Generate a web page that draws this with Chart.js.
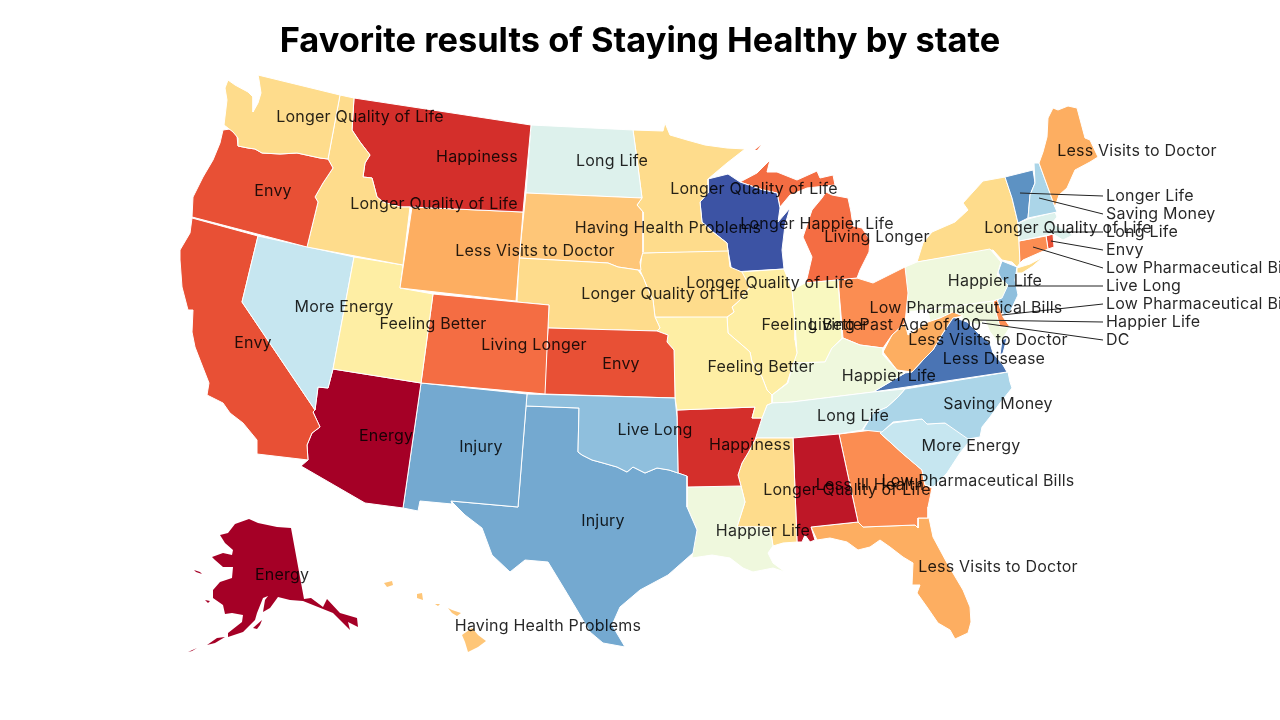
<!DOCTYPE html>
<html>
<head>
<meta charset="utf-8">
<title>Favorite results of Staying Healthy by state</title>
<script src="https://cdn.jsdelivr.net/npm/chart.js@4"></script>
<style>
html,body{margin:0;padding:0;background:#fff;}
canvas{display:block;}
</style>
</head>
<body>
<canvas id="map" width="1280" height="720"></canvas>
<script>
// STATE OUTLINES (map units)
const WA = [[258,75],[340,95],[328,159],[320,158],[297,153],[280,154],[262,153],[255,149],[248,148],[238,146],[238,138],[233,132],[224,125],[227,100],[225,88],[228,80],[235,85],[248,92],[253,97],[253,112],[258,103],[261,93],[259,80]];
const OR = [[223,130],[230,129],[237,136],[238,146],[248,148],[255,149],[262,153],[280,154],[297,153],[320,158],[328,159],[333,168],[323,183],[315,197],[318,202],[307,247],[192,217],[193,197],[203,177],[213,160],[220,143]];
const ID = [[340,95],[354,98],[352,130],[360,142],[370,155],[365,163],[363,177],[372,178],[377,197],[383,202],[400,207],[410,207],[403,265],[307,247],[318,202],[315,197],[323,183],[333,168],[328,159]];
const MT = [[354,98],[531,125],[523,212],[410,207],[400,207],[383,202],[377,197],[372,178],[363,177],[365,163],[370,155],[360,142],[352,130]];
const WY = [[412,207],[523,212],[516,301],[400,288]];
const UT = [[354,257],[403,265],[400,288],[433,294],[421,383],[333,369]];
const NV = [[258,236],[354,257],[333,369],[328,388],[318,387],[315,410],[242,302]];
const CA = [[192,218],[258,236],[242,302],[315,410],[313,412],[320,427],[312,433],[307,445],[308,460],[257,454],[257,440],[243,423],[230,413],[223,403],[207,395],[209,383],[200,360],[195,347],[192,332],[193,310],[188,310],[182,287],[180,260],[180,250],[190,233]];
const AZ = [[333,369],[421,383],[403,508],[365,503],[301,466],[308,460],[307,445],[312,433],[320,427],[313,412],[315,410],[318,387],[328,388]];
const CO = [[433,294],[517,302],[549,305],[545,394],[421,383]];
const NM = [[421,383],[527,394],[518,507],[451,501],[452,504],[420,501],[418,511],[403,508]];
const OK = [[527,394],[675,398],[677,417],[678,473],[669,470],[657,468],[645,473],[633,467],[627,472],[617,467],[603,463],[592,460],[582,455],[578,452],[579,408],[526,406]];
const TX = [[526,406],[579,408],[578,452],[582,455],[592,460],[603,463],[617,467],[627,472],[633,467],[645,473],[657,468],[669,470],[678,473],[687,476],[687,507],[697,530],[693,553],[668,575],[640,590],[620,607],[612,625],[625,647],[603,643],[590,632],[577,610],[565,590],[548,562],[525,560],[510,572],[492,555],[482,528],[465,515],[451,501],[518,507]];
const KS = [[548,328],[657,331],[668,335],[667,342],[674,350],[675,398],[544,394]];
const NE = [[519,258],[608,263],[618,267],[638,270],[643,277],[647,287],[653,300],[655,317],[660,328],[657,331],[548,328],[549,305],[517,302]];
const SD = [[526,193],[642,198],[637,205],[643,212],[643,252],[640,262],[641,270],[638,270],[618,267],[608,263],[519,258]];
const ND = [[531,125],[633,130],[638,167],[642,198],[526,193]];
const MN = [[633,130],[663,131],[665,123],[670,135],[687,140],[705,145],[727,148],[745,149],[727,163],[708,179],[708,193],[700,202],[702,222],[713,232],[727,243],[728,251],[642,253],[643,212],[637,205],[642,198],[638,167]];
const IA = [[642,253],[728,250],[730,267],[742,272],[750,287],[740,300],[732,307],[734,312],[727,317],[655,317],[653,300],[647,287],[640,270]];
const MO = [[655,317],[727,316],[728,333],[742,345],[750,352],[752,362],[762,377],[767,390],[772,395],[772,403],[767,405],[762,418],[752,418],[755,407],[677,410],[675,398],[674,350],[667,342],[668,335],[657,331],[660,328]];
const AR = [[677,410],[755,407],[752,418],[762,418],[755,440],[748,453],[742,463],[738,475],[741,486],[687,487],[686,476],[678,473]];
const LA = [[687,487],[741,486],[745,502],[737,527],[770,527],[773,546],[768,553],[773,563],[785,572],[773,568],[763,570],[753,572],[743,568],[730,558],[712,555],[692,558],[693,547],[697,530],[687,507]];
const MS = [[757,438],[793,438],[797,542],[783,543],[773,546],[770,527],[737,527],[745,502],[741,486],[738,475],[742,463],[748,453],[755,440]];
const AL = [[793,438],[839,434],[858,522],[811,527],[815,540],[810,542],[805,535],[802,542],[797,542]];
const TN = [[767,405],[772,403],[792,402],[873,392],[905,389],[898,397],[887,407],[873,413],[862,430],[839,434],[793,438],[757,438],[755,440],[762,418]];
const KY = [[772,403],[772,395],[788,383],[793,363],[825,362],[832,348],[843,338],[860,345],[883,348],[883,355],[897,370],[905,373],[873,392],[792,402]];
const IL = [[740,272],[784,269],[792,290],[795,323],[795,340],[797,353],[787,383],[772,395],[767,390],[762,377],[752,362],[750,352],[742,345],[728,333],[727,317],[734,312],[732,307],[740,300],[750,287]];
const IN = [[792,290],[805,283],[838,280],[842,338],[832,348],[825,362],[793,363],[797,353],[795,323]];
const WI = [[708,179],[728,174],[740,182],[763,190],[777,193],[780,208],[778,222],[790,208],[785,225],[782,250],[784,269],[732,272],[728,251],[727,243],[713,232],[702,222],[700,202],[708,193]];
const MI_UPPER = [[740,182],[757,173],[770,160],[767,172],[777,172],[797,180],[817,171],[820,178],[833,175],[835,185],[807,188],[790,195],[780,207],[777,193],[763,190]];
const MI_LOWER = [[806,283],[812,257],[803,237],[812,210],[822,198],[826,192],[832,195],[848,198],[851,212],[853,226],[862,228],[870,240],[869,252],[860,270],[857,278]];
const MI_ISLE = [[755,150],[761,145],[757,150]];
const OH = [[838,280],[857,278],[873,283],[905,267],[908,293],[905,323],[892,335],[883,348],[860,345],[843,338]];
const WV = [[883,352],[892,335],[905,323],[908,335],[928,322],[940,318],[953,312],[963,316],[953,318],[943,333],[933,350],[923,360],[912,372],[897,370]];
const PA = [[905,267],[917,262],[990,249],[1001,262],[997,275],[1008,285],[1002,298],[993,301],[908,312]];
const MD = [[928,310],[993,301],[1000,327],[1010,327],[1003,338],[998,342],[990,332],[985,320],[978,325],[965,320],[955,313],[940,318],[930,322]];
const DE = [[993,302],[997,299],[1003,317],[1010,327],[999,327]];
const DC = [[979,321],[982,320],[983,323],[980,324]];
const VA = [[873,392],[905,373],[912,372],[923,360],[933,350],[943,333],[953,317],[967,322],[980,335],[990,343],[993,353],[1003,365],[1007,372]];
const VA_SHORE = [[1002,340],[1007,338],[1003,353],[1000,355]];
const NC = [[905,389],[1008,372],[1010,382],[1012,388],[1000,403],[990,417],[982,427],[980,437],[968,439],[945,423],[927,424],[922,419],[893,422],[882,432],[863,430],[873,413],[887,407],[898,397]];
const SC = [[880,433],[893,423],[922,419],[927,424],[945,423],[972,438],[960,453],[947,473],[933,487],[925,485],[922,470],[902,453],[890,442]];
const GA = [[839,434],[881,429],[882,435],[890,442],[902,453],[922,470],[925,485],[932,488],[928,507],[928,518],[918,518],[918,528],[915,525],[863,527],[858,522]];
const FL = [[811,527],[858,522],[863,527],[915,525],[918,528],[918,518],[929,518],[933,537],[947,563],[963,590],[970,607],[971,622],[968,633],[955,639],[950,630],[938,623],[927,607],[917,593],[920,585],[912,585],[913,563],[903,557],[890,547],[880,540],[870,547],[858,550],[847,542],[830,538],[817,540]];
const ME = [[1053,108],[1058,110],[1068,106],[1077,108],[1085,138],[1090,140],[1098,157],[1090,162],[1075,170],[1067,188],[1059,195],[1055,207],[1039,163],[1043,152],[1047,137],[1048,118]];
const NH = [[1034,163],[1039,163],[1055,207],[1057,212],[1028,218],[1030,195],[1035,183]];
const VT = [[1005,177],[1033,170],[1035,183],[1030,195],[1028,218],[1018,223],[1012,198]];
const MA = [[1018,223],[1028,219],[1055,212],[1057,217],[1052,223],[1073,235],[1063,240],[1053,234],[1019,241]];
const CT = [[1019,241],[1046,236],[1048,249],[1023,260],[1020,263]];
const RI = [[1046,236],[1053,234],[1054,247],[1048,249]];
const NY = [[1005,177],[1012,198],[1018,223],[1019,241],[1020,263],[1017,267],[1012,262],[1002,260],[993,250],[917,262],[923,243],[932,232],[955,222],[968,210],[963,203],[983,181]];
const NY_LONG = [[1017,268],[1030,264],[1043,257],[1033,266],[1022,273],[1017,273]];
const NJ = [[1002,261],[1017,267],[1015,280],[1018,295],[1010,312],[1004,315],[997,302],[1005,287],[998,272]];
const AK = [[249,519],[258,523],[277,527],[291,528],[304,599],[311,598],[323,607],[327,599],[340,613],[357,618],[358,627],[348,622],[350,630],[333,613],[313,605],[303,601],[290,600],[278,597],[270,608],[263,612],[265,600],[268,596],[263,598],[257,613],[255,620],[243,632],[228,637],[228,633],[242,622],[243,615],[232,613],[225,614],[223,605],[213,598],[213,590],[220,582],[232,578],[233,567],[223,567],[215,560],[212,557],[223,553],[232,555],[233,550],[225,543],[220,535],[228,533],[235,524]];
const AK_KODIAK = [[253,628],[262,620],[260,625],[257,629]];
const AK_ISLE1 = [[194,570],[200,572],[202,574],[196,572]];
const AK_ISLE2 = [[205,600],[210,601],[208,603]];
const AK_ISLE3 = [[207,645],[217,638],[225,637],[215,643]];
const AK_ISLE4 = [[188,652],[197,648],[192,651]];
const HI_BIG = [[472,628],[478,635],[486,641],[478,647],[468,652],[465,642],[462,635]];
const HI_MAUI = [[448,608],[452,610],[461,613],[457,616],[452,613]];
const HI_OAHU = [[417,594],[422,593],[423,600],[417,598]];
const HI_KAUAI = [[384,583],[392,581],[393,585],[387,587]];
const HI_MOLOKAI = [[435,604],[440,604],[438,606]];

// DATA
const shapes = [WA,OR,ID,MT,WY,UT,NV,CA,AZ,CO,NM,OK,TX,KS,NE,SD,ND,MN,IA,MO,AR,LA,MS,AL,TN,KY,IL,IN,WI,MI_UPPER,MI_LOWER,MI_ISLE,OH,WV,PA,MD,DE,DC,VA,VA_SHORE,NC,SC,GA,FL,ME,NH,VT,MA,CT,RI,NY,NY_LONG,NJ,AK,AK_KODIAK,AK_ISLE1,AK_ISLE2,AK_ISLE3,AK_ISLE4,HI_BIG,HI_MAUI,HI_OAHU,HI_KAUAI,HI_MOLOKAI];
const shapeResults = ['Longer Quality of Life','Envy','Longer Quality of Life','Happiness','Less Visits to Doctor','Feeling Better','More Energy','Envy','Energy','Living Longer','Injury','Live Long','Injury','Envy','Longer Quality of Life','Having Health Problems','Long Life','Longer Quality of Life','Longer Quality of Life','Feeling Better','Happiness','Happier Life','Longer Quality of Life','Less Ill Health','Long Life','Happier Life','Feeling Better','Living Past Age of 100','Longer Happier Life','Living Longer','Living Longer','Living Longer','Low Pharmaceutical Bills','Less Visits to Doctor','Happier Life','Happier Life','Low Pharmaceutical Bills','Less Disease','Less Disease','Less Disease','Saving Money','More Energy','Low Pharmaceutical Bills','Less Visits to Doctor','Less Visits to Doctor','Saving Money','Longer Life','Long Life','Low Pharmaceutical Bills','Envy','Longer Quality of Life','Longer Quality of Life','Live Long','Energy','Energy','Energy','Energy','Energy','Energy','Having Health Problems','Having Health Problems','Having Health Problems','Having Health Problems','Having Health Problems'];

// these have no neighbours, a white edge would only eat into them
const noEdgeShapes = [MI_ISLE,AK,AK_KODIAK,AK_ISLE1,AK_ISLE2,AK_ISLE3,AK_ISLE4,HI_BIG,HI_MAUI,HI_OAHU,HI_KAUAI,HI_MOLOKAI];

// result categories, in colour scale order
const resultNames = ['Energy','Less Ill Health','Happiness','Envy','Living Longer','Low Pharmaceutical Bills','Less Visits to Doctor','Having Health Problems','Longer Quality of Life','Feeling Better','Living Past Age of 100','Happier Life','Long Life','More Energy','Saving Money','Live Long','Injury','Longer Life','Less Disease','Longer Happier Life'];
const resultColors = ['#a50026','#be1727','#d42f2b','#e85035','#f46d43','#fb8d52','#fdae61','#fec678','#fedc8c','#feeea4','#f9f8c0','#eff8dd','#ddf1ec','#c6e6f0','#abd5e8','#8fbfdd','#74a9d0','#5d92c3','#4a74b4','#3c53a4'];

// labels drawn on the map
const labelText = ['Longer Quality of Life','Happiness','Long Life','Less Visits to Doctor','Longer Quality of Life','Envy','Longer Quality of Life','Longer Happier Life','Having Health Problems','Living Longer','Longer Quality of Life','Less Visits to Doctor','Longer Quality of Life','Happier Life','Longer Quality of Life','More Energy','Low Pharmaceutical Bills','Feeling Better','Feeling Better','Living Past Age of 100','Less Visits to Doctor','Living Longer','Envy','Less Disease','Envy','Feeling Better','Happier Life','Saving Money','Long Life','Live Long','Energy','Happiness','Injury','More Energy','Low Pharmaceutical Bills','Less Ill Health','Longer Quality of Life','Happier Life','Injury','Less Visits to Doctor','Energy','Having Health Problems'];
const labelX = [360,477,612,1137,754,273,434,817,668,877,1068,535,770,995,665,344,966,433,815,895,988,534,253,994,621,761,889,998,853,655,386,750,481,971,978,870,847,763,603,998,282,548];
const labelY = [117,157,161,151,189,191,204,224,228,237,228,251,283,281,294,307,308,324,325,325,340,345,343,359,364,367,376,404,416,430,436,445,447,446,481,485,490,531,521,567,575,626];

// small states labelled out to the side
const sideText = ['Longer Life','Saving Money','Long Life','Envy','Low Pharmaceutical Bills','Live Long','Low Pharmaceutical Bills','Happier Life','DC'];
const sideY = [196,214,232,250,268,286,304,322,340];
const leaderFromX = [1020,1039,1043,1051,1033,1008,1002,973,982];
const leaderFromY = [193,198,232,241,247,286,315,320,323];
const sideX = 1106;
const leaderToX = 1103;

// CHART
const datasets = [];
sideY.forEach((y,i)=>{
  datasets.push({
    data:[{x:leaderFromX[i],y:leaderFromY[i]},{x:leaderToX,y:y}],
    showLine:true,
    borderColor:'#222',
    borderWidth:1,
    pointRadius:0,
    order:0
  });
});
shapes.forEach((shape,i)=>{
  const pts = shape.map(p=>({x:p[0],y:p[1]}));
  pts.push(pts[0]);
  datasets.push({
    data:pts,
    showLine:true,
    fill:'shape',
    tension:0,
    backgroundColor:resultColors[resultNames.indexOf(shapeResults[i])],
    borderColor:'#fff',
    borderWidth:noEdgeShapes.includes(shape)?0:1,
    pointRadius:0,
    order:1
  });
});

// draws the state names through the same scales as the shapes
const mapLabels = {
  id:'mapLabels',
  afterDatasetsDraw(chart){
    const c = chart.ctx;
    const xs = chart.scales.x;
    const ys = chart.scales.y;
    c.save();
    c.font = '16px "Inter"';
    c.letterSpacing = '0.2px';
    c.fillStyle = 'rgba(0,0,0,0.85)';
    c.textBaseline = 'middle';
    c.textAlign = 'center';
    labelText.forEach((t,i)=>{
      c.fillText(t,xs.getPixelForValue(labelX[i]),ys.getPixelForValue(labelY[i]));
    });
    c.textAlign = 'left';
    sideText.forEach((t,i)=>{
      c.fillText(t,xs.getPixelForValue(sideX),ys.getPixelForValue(sideY[i]));
    });
    c.restore();
  }
};

new Chart(document.getElementById('map'),{
  type:'scatter',
  data:{datasets},
  plugins:[mapLabels],
  options:{
    responsive:false,
    animation:false,
    layout:{padding:0},
    plugins:{
      legend:{display:false},
      tooltip:{enabled:false},
      title:{
        display:true,
        text:'Favorite results of Staying Healthy by state',
        color:'#000',
        font:{family:'Inter',size:34.4,weight:'bold',lineHeight:1.2},
        padding:{top:21.5,bottom:1.22}
      }
    },
    scales:{
      x:{type:'linear',display:false,min:0,max:1280},
      y:{type:'linear',display:false,min:64,max:720,reverse:true}
    }
  }
});
</script>
</body>
</html>
